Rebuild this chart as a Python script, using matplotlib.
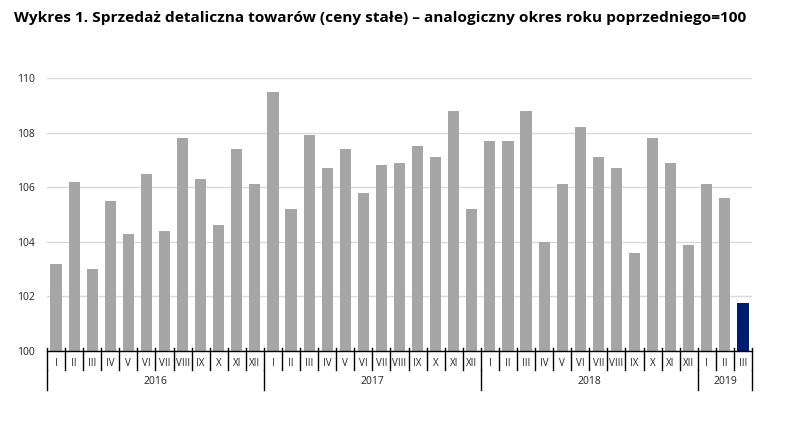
import numpy as np
import matplotlib.pyplot as plt
import matplotlib.transforms as mtransforms

# Dane: sprzedaż detaliczna, analogiczny okres roku poprzedniego = 100
months = ['I', 'II', 'III', 'IV', 'V', 'VI', 'VII', 'VIII', 'IX', 'X', 'XI', 'XII']
years = ['2016', '2017', '2018', '2019']
months_per_year = [12, 12, 12, 3]

values_2016 = [103.2, 106.2, 103.0, 105.5, 104.3, 106.5, 104.4, 107.8, 106.3, 104.6, 107.4, 106.1]
values_2017 = [109.5, 105.2, 107.9, 106.7, 107.4, 105.8, 106.8, 106.9, 107.5, 107.1, 108.8, 105.2]
values_2018 = [107.7, 107.7, 108.8, 104.0, 106.1, 108.2, 107.1, 106.7, 103.6, 107.8, 106.9, 103.9]
values_2019 = [106.1, 105.6, 101.75]

values = values_2016 + values_2017 + values_2018 + values_2019
labels = []
for n in months_per_year:
    labels += months[:n]

plt.rcParams['font.family'] = ['Open Sans', 'DejaVu Sans']

fig = plt.figure(figsize=(7.86, 4.30), dpi=100)
ax = fig.add_axes([47 / 786, 1 - 351 / 430, (752 - 47) / 786, (351 - 78) / 430])

x = np.arange(len(values))
colors = ['#a6a6a6'] * (len(values) - 1) + ['#001c71']
ax.bar(x, values, width=0.62, color=colors, zorder=2)

ax.set_xlim(-0.5, len(values) - 0.5)
ax.set_ylim(100, 110)
ax.set_yticks(np.arange(100, 111, 2))
ax.yaxis.grid(True, color='#d9d9d9', linewidth=1, zorder=0)
ax.tick_params(axis='y', length=0, labelsize=7.5, pad=8.6, colors='#222222')
ax.set_xticks([])
for s in ['top', 'right', 'left']:
    ax.spines[s].set_visible(False)
ax.spines['bottom'].set_color('black')
ax.spines['bottom'].set_linewidth(1)

# oś kategorii: miesiące i lata
trans = mtransforms.blended_transform_factory(ax.transData, ax.transAxes)
h = ax.get_position().height * 430
month_end = -19 / h
year_end = -39 / h
for i in range(len(values) + 1):
    ax.plot([i - 0.5, i - 0.5], [0.01, month_end], color='black', lw=1,
            transform=trans, clip_on=False)
for i, lab in enumerate(labels):
    ax.text(i, -12 / h, lab, ha='center', va='center', fontsize=7,
            color='#222222', transform=trans)

start = 0
for yr, n in zip(years, months_per_year):
    ax.plot([start - 0.5, start - 0.5], [month_end, year_end], color='black', lw=1,
            transform=trans, clip_on=False)
    ax.text(start + n / 2 - 0.5, -31 / h, yr, ha='center', va='center', fontsize=7.5,
            color='#222222', transform=trans)
    start += n
ax.plot([start - 0.5, start - 0.5], [month_end, year_end], color='black', lw=1,
        transform=trans, clip_on=False)

fig.text(14 / 786, 1 - 18 / 430,
         'Wykres 1. Sprzedaż detaliczna towarów (ceny stałe) – analogiczny okres roku poprzedniego=100',
         ha='left', va='center', fontsize=11.1, fontweight='bold', color='black')

fig.savefig('out.png', dpi=100, facecolor='white')
